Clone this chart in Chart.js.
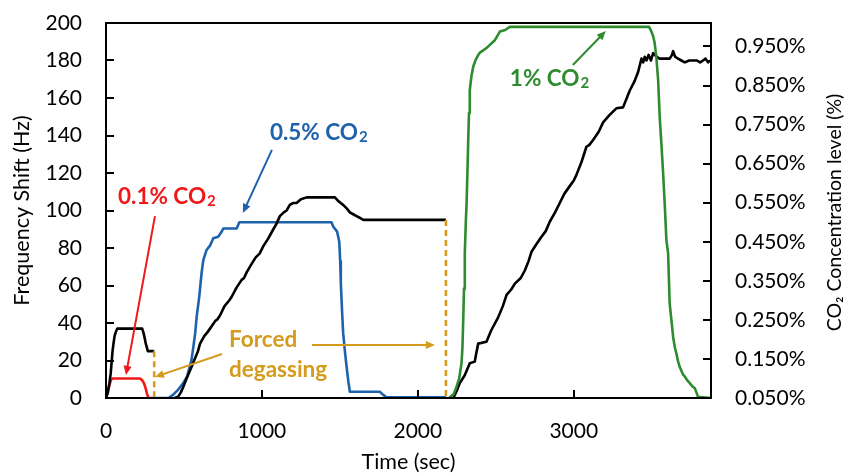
<!DOCTYPE html>
<html>
<head>
<meta charset="utf-8">
<script src="https://cdn.jsdelivr.net/npm/chart.js@4.4.1/dist/chart.umd.min.js"></script>
<style>
  html, body { margin: 0; padding: 0; background: #ffffff; }
  #wrap { width: 845px; height: 475px; }
</style>
</head>
<body>
<div id="wrap"><canvas id="c" width="845" height="475"></canvas></div>
<script>
// ---- Frequency shift (Hz), left axis ----
const shiftRun1Time = [0, 12, 22, 30, 36, 42, 48, 55, 62, 72, 232, 240, 248, 255, 262, 268, 309];
const shiftRun1Hz   = [0, 3, 8, 13, 19, 25, 29, 33, 35, 37, 37, 35, 32, 29, 27, 25, 25];

const shiftRun2Time = [440, 463, 480, 496, 520, 549, 575, 590, 603, 630, 650, 667, 700, 715, 731, 760, 790, 806, 838, 870, 885, 902, 930, 960, 985, 1009, 1040, 1073, 1094, 1115, 1140, 1158, 1179, 1200, 1222, 1250, 1287, 1468, 1490, 1505, 1521, 1545, 1564, 1585, 1607, 1630, 1650, 2180];
const shiftRun2Hz   = [0, 0.7, 3, 6, 11, 16.7, 22, 25, 29, 33, 35, 37, 41, 42, 44, 49, 52, 54, 59, 63, 64, 67, 71, 75, 77, 81, 85, 90, 93, 97, 99, 100, 103, 104, 104, 106, 107, 107, 105, 104, 103, 101, 99, 98, 97, 96, 95, 95];

const shiftRun3Time = [2228, 2250, 2269, 2300, 2333, 2365, 2375, 2387, 2440, 2470, 2515, 2545, 2569, 2600, 2622, 2660, 2686, 2710, 2729, 2760, 2793, 2820, 2846, 2880, 2910, 2940, 2974, 3000, 3017, 3050, 3081, 3100, 3124, 3160, 3188, 3230, 3273, 3316, 3340, 3359, 3390, 3413, 3425, 3434, 3445, 3455, 3466, 3480, 3495, 3509, 3530, 3551, 3580, 3615, 3630, 3637, 3650, 3669, 3690, 3712, 3740, 3765, 3790, 3810, 3829, 3845, 3861, 3875];
const shiftRun3Hz   = [0, 4, 8, 12, 18.5, 19.4, 24, 29, 30, 36, 43, 49, 55, 58, 61, 64, 68, 73, 78, 82, 86, 89, 94, 99, 104, 109, 113, 116, 119, 126, 134, 135, 137.6, 142, 147, 151, 154.5, 155, 160, 164, 169, 174, 178, 181, 179, 182, 180, 183, 180, 184, 182, 181, 181, 181, 183, 185, 182, 181, 180, 179, 180, 180, 180, 179, 180, 181, 179, 180];

// Forced degassing steps (Hz)
const degas1Time = [309, 309];
const degas1Hz   = [25, 0];
const degas2Time = [2180, 2180];
const degas2Hz   = [95, 0];

// ---- CO2 concentration (%), right axis ----
const co2LowTime = [0, 8, 16, 24, 32, 40, 218, 228, 238, 248, 256, 264, 272, 309];
const co2LowPct  = [0.05, 0.062, 0.074, 0.086, 0.096, 0.1, 0.1, 0.097, 0.092, 0.083, 0.072, 0.06, 0.05, 0.05];

const co2MidTime = [309, 400, 430, 460, 495, 520, 548, 560, 572, 582, 598, 613, 624, 645, 667, 688, 720, 742, 752, 838, 855, 1446, 1457, 1482, 1496, 1502, 1506, 1513, 1521, 1532, 1543, 1555, 1564, 1756, 1778, 1799, 2180];
const co2MidPct  = [0.05, 0.05, 0.058, 0.07, 0.088, 0.105, 0.147, 0.18, 0.216, 0.26, 0.309, 0.37, 0.403, 0.429, 0.44, 0.459, 0.463, 0.476, 0.484, 0.484, 0.5, 0.5, 0.489, 0.476, 0.45, 0.4, 0.344, 0.28, 0.216, 0.17, 0.13, 0.09, 0.066, 0.066, 0.058, 0.052, 0.052];

const co2HighTime = [2200, 2230, 2248, 2265, 2280, 2286, 2291, 2296, 2301, 2308, 2312, 2318, 2323, 2328, 2333, 2344, 2355, 2370, 2387, 2400, 2419, 2440, 2462, 2478, 2494, 2510, 2526, 2560, 2590, 3483, 3498, 3510, 3519, 3530, 3541, 3551, 3562, 3573, 3584, 3594, 3605, 3615, 3626, 3637, 3648, 3658, 3668, 3679, 3690, 3701, 3712, 3728, 3744, 3760, 3776, 3786, 3797, 3875];
const co2HighPct  = [0.05, 0.06, 0.079, 0.1, 0.139, 0.18, 0.25, 0.33, 0.42, 0.506, 0.54, 0.63, 0.71, 0.78, 0.838, 0.875, 0.898, 0.915, 0.928, 0.935, 0.94, 0.946, 0.954, 0.96, 0.966, 0.977, 0.988, 0.992, 1.0, 1.0, 0.988, 0.975, 0.958, 0.92, 0.864, 0.77, 0.7, 0.625, 0.54, 0.454, 0.42, 0.292, 0.25, 0.207, 0.18, 0.164, 0.145, 0.13, 0.12, 0.11, 0.105, 0.095, 0.088, 0.08, 0.075, 0.065, 0.053, 0.05];

// ---- Axis ticks ----
const timeTicks  = [0, 1000, 2000, 3000];
const shiftTicks = [0, 20, 40, 60, 80, 100, 120, 140, 160, 180, 200];
const co2Ticks   = [0.05, 0.15, 0.25, 0.35, 0.45, 0.55, 0.65, 0.75, 0.85, 0.95];

const FONT = 'Lato, "Open Sans", "Noto Sans", sans-serif';
const BLACK = '#000000', RED = '#F01818', BLUE = '#1E62AC', GREEN = '#2E8B2E', ORANGE = '#D49B1C';

const pts = (ts, vs) => ts.map((t, i) => ({ x: t, y: vs[i] }));

function series(label, ts, vs, color, axis, order, extra) {
  return Object.assign({
    label, data: pts(ts, vs), yAxisID: axis, order,
    borderColor: color, borderWidth: 2.6, pointRadius: 0, showLine: true,
    tension: 0, fill: false, borderJoinStyle: 'round'
  }, extra || {});
}

// Callout labels and arrows, placed in data units of the time / frequency axes
const callouts = [
  { parts: ['0.1% CO', '2'], t: 77,   hz: 107.2, color: RED },
  { parts: ['0.5% CO', '2'], t: 1051, hz: 141.3, color: BLUE },
  { parts: ['1% CO', '2'],   t: 2590, hz: 170.1, color: GREEN },
  { parts: ['Forced'],       t: 789,  hz: 30.9,  color: ORANGE },
  { parts: ['degassing'],    t: 789,  hz: 14.9,  color: ORANGE }
];
const arrows = [
  { from: [314, 97],    to: [128, 12.3],   color: RED },
  { from: [1064, 132.3], to: [878, 98.7],  color: BLUE },
  { from: [2994, 177.6], to: [3205, 195.7], color: GREEN },
  { from: [744, 23.5],  to: [314, 11.2],   color: ORANGE },
  { from: [1321, 28.3], to: [2109, 28.3],  color: ORANGE }
];

// label overhang is already covered by the fixed axis boxes
function fixBox(size, key) {
  return s => {
    s[key] = size;
    s.paddingTop = 0; s.paddingBottom = 0; s.paddingLeft = 0; s.paddingRight = 0;
  };
}

const decorations = {
  id: 'decorations',
  afterDatasetsDraw(chart) {
    const { ctx, chartArea: a, scales } = chart;
    const sx = scales.x, sy = scales.y, s2 = scales.y2;
    ctx.save();

    // inward tick marks and plot frame
    ctx.strokeStyle = BLACK;
    ctx.lineWidth = 2;
    ctx.beginPath();
    shiftTicks.forEach(v => { const p = Math.round(sy.getPixelForValue(v)); ctx.moveTo(a.left, p); ctx.lineTo(a.left + 8, p); });
    co2Ticks.forEach(v => { const p = Math.round(s2.getPixelForValue(v)); ctx.moveTo(a.right, p); ctx.lineTo(a.right - 8, p); });
    timeTicks.forEach(v => { const p = Math.round(sx.getPixelForValue(v)); ctx.moveTo(p, a.bottom); ctx.lineTo(p, a.bottom - 8); });
    ctx.stroke();
    ctx.strokeRect(a.left, a.top, a.right - a.left, a.bottom - a.top);

    // arrows
    arrows.forEach(ar => {
      const x1 = sx.getPixelForValue(ar.from[0]), y1 = sy.getPixelForValue(ar.from[1]);
      const x2 = sx.getPixelForValue(ar.to[0]),   y2 = sy.getPixelForValue(ar.to[1]);
      const ang = Math.atan2(y2 - y1, x2 - x1);
      const hl = 9, hw = 4;
      ctx.strokeStyle = ar.color; ctx.fillStyle = ar.color; ctx.lineWidth = 2;
      ctx.beginPath();
      ctx.moveTo(x1, y1);
      ctx.lineTo(x2 - Math.cos(ang) * hl * 0.8, y2 - Math.sin(ang) * hl * 0.8);
      ctx.stroke();
      ctx.beginPath();
      ctx.moveTo(x2, y2);
      ctx.lineTo(x2 - Math.cos(ang) * hl - Math.sin(ang) * hw, y2 - Math.sin(ang) * hl + Math.cos(ang) * hw);
      ctx.lineTo(x2 - Math.cos(ang) * hl + Math.sin(ang) * hw, y2 - Math.sin(ang) * hl - Math.cos(ang) * hw);
      ctx.closePath();
      ctx.fill();
    });

    // callout texts (subscript drawn smaller and lower)
    ctx.textBaseline = 'middle';
    ctx.textAlign = 'left';
    callouts.forEach(c => {
      let x = sx.getPixelForValue(c.t);
      const y = sy.getPixelForValue(c.hz);
      ctx.fillStyle = c.color;
      ctx.font = 'bold 22.5px ' + FONT;
      ctx.fillText(c.parts[0], x, y);
      if (c.parts[1]) {
        x += ctx.measureText(c.parts[0]).width + 1;
        ctx.font = 'bold 15px ' + FONT;
        ctx.fillText(c.parts[1], x, y + 4);
      }
    });

    // right axis title, reading bottom to top
    ctx.save();
    ctx.translate(835, (a.top + a.bottom) / 2 + 2);
    ctx.rotate(-Math.PI / 2);
    ctx.fillStyle = BLACK;
    ctx.textAlign = 'center';
    ctx.textBaseline = 'middle';
    ctx.font = '19.5px ' + FONT;
    ctx.fillText('CO\u2082 Concentration level (%)', 0, 0);
    ctx.restore();

    ctx.restore();
  }
};

const chart = new Chart(document.getElementById('c'), {
  type: 'scatter',
  data: {
    datasets: [
      series('1% CO2', co2HighTime, co2HighPct, GREEN, 'y2', 1),
      series('Shift run 3', shiftRun3Time, shiftRun3Hz, BLACK, 'y', 2),
      series('Degassing 2', degas2Time, degas2Hz, ORANGE, 'y', 3, { borderDash: [6, 4] }),
      series('Degassing 1', degas1Time, degas1Hz, ORANGE, 'y', 3, { borderDash: [6, 4] }),
      series('Shift run 2', shiftRun2Time, shiftRun2Hz, BLACK, 'y', 4),
      series('0.5% CO2', co2MidTime, co2MidPct, BLUE, 'y2', 5),
      series('Shift run 1', shiftRun1Time, shiftRun1Hz, BLACK, 'y', 6),
      series('0.1% CO2', co2LowTime, co2LowPct, RED, 'y2', 7)
    ]
  },
  options: {
    responsive: false,
    animation: false,
    devicePixelRatio: 1,
    layout: { padding: { top: 23, left: 0, right: 0, bottom: 0 } },
    plugins: { legend: { display: false }, tooltip: { enabled: false } },
    elements: { line: { borderCapStyle: 'butt' } },
    scales: {
      x: {
        type: 'linear', position: 'bottom', min: 0, max: 3880,
        afterBuildTicks: s => { s.ticks = timeTicks.map(v => ({ value: v })); },
        afterFit: fixBox(77, 'height'),
        grid: { display: false, drawTicks: false },
        border: { display: false },
        ticks: { color: BLACK, font: { family: FONT, size: 21 }, padding: 21, maxRotation: 0, callback: v => String(v) },
        title: { display: true, text: 'Time (sec)', color: BLACK, font: { family: FONT, size: 21.5 }, padding: { top: 0, bottom: 0 } }
      },
      y: {
        type: 'linear', position: 'left', min: 0, max: 200,
        afterBuildTicks: s => { s.ticks = shiftTicks.map(v => ({ value: v })); },
        afterFit: fixBox(106, 'width'),
        grid: { display: false, drawTicks: false },
        border: { display: false },
        ticks: { color: BLACK, font: { family: FONT, size: 21 }, padding: 24, callback: v => String(v) },
        title: { display: true, text: 'Frequency Shift (Hz)', color: BLACK, font: { family: FONT, size: 21.5 }, padding: { top: 9, bottom: 0 } }
      },
      y2: {
        type: 'linear', position: 'right', min: 0.05, max: 1.01,
        afterBuildTicks: s => { s.ticks = co2Ticks.map(v => ({ value: v })); },
        afterFit: fixBox(134, 'width'),
        grid: { display: false, drawTicks: false },
        border: { display: false },
        ticks: { color: BLACK, font: { family: FONT, size: 21 }, padding: 24, callback: v => v.toFixed(3) + '%' }
      }
    }
  },
  plugins: [decorations]
});
</script>
</body>
</html>
